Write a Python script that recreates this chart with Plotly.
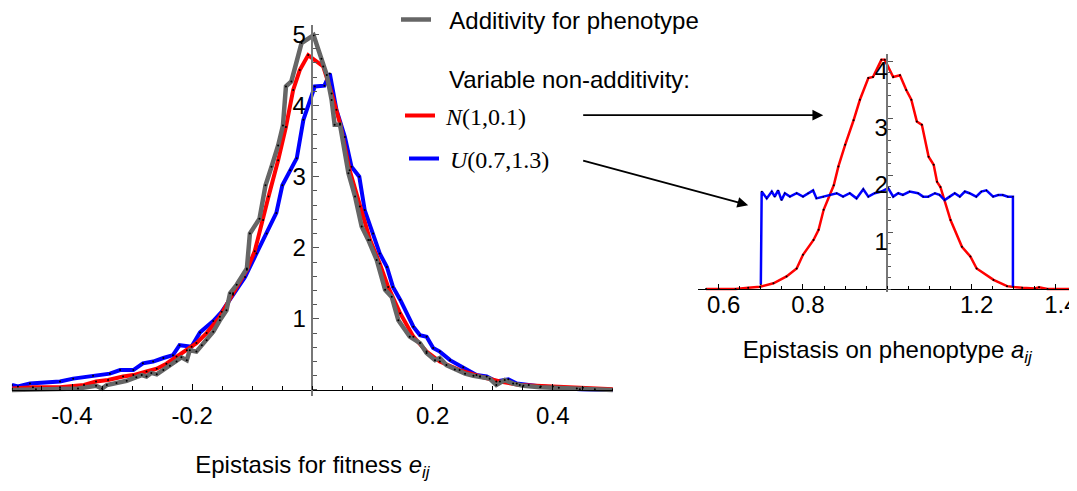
import plotly.graph_objects as go

# ---------------- Left panel: epistasis for fitness ----------------
gray_x = [-0.50, -0.46, -0.42, -0.39, -0.36, -0.35, -0.342, -0.326, -0.309, -0.293, -0.284, -0.276,
          -0.268, -0.259, -0.248, -0.237, -0.226, -0.218, -0.209, -0.204, -0.193, -0.184, -0.176,
          -0.165, -0.154, -0.143, -0.137, -0.126, -0.109, -0.104, -0.088, -0.078, -0.068, -0.057,
          -0.049, -0.044, -0.035, -0.018, 0.002, 0.015, 0.024, 0.032, 0.037, 0.046, 0.06, 0.071,
          0.082, 0.093, 0.107, 0.121, 0.132, 0.143, 0.162, 0.179, 0.19, 0.204, 0.212, 0.223, 0.237,
          0.254, 0.268, 0.279, 0.295, 0.306, 0.32, 0.334, 0.351, 0.379, 0.41, 0.44, 0.47, 0.50]
gray_y = [0.00, 0.01, 0.01, 0.02, 0.06, 0.02, 0.07, 0.10, 0.13, 0.18, 0.21, 0.19,
          0.24, 0.22, 0.28, 0.34, 0.40, 0.46, 0.42, 0.56, 0.54, 0.63, 0.70,
          0.82, 0.98, 1.12, 1.36, 1.48, 1.71, 2.20, 2.41, 2.88, 3.14, 3.44,
          3.72, 4.27, 4.34, 4.88, 4.99, 4.66, 4.43, 4.08, 3.73, 3.73, 3.05, 2.72,
          2.30, 2.11, 1.83, 1.41, 1.31, 0.98, 0.75, 0.66, 0.52, 0.42, 0.45, 0.35, 0.29,
          0.23, 0.20, 0.19, 0.16, 0.07, 0.14, 0.09, 0.06, 0.04, 0.03, 0.02, 0.01, 0.00]

red_x = [-0.50, -0.465, -0.42, -0.38, -0.36, -0.34, -0.315, -0.298, -0.276, -0.259, -0.243, -0.226,
         -0.209, -0.193, -0.176, -0.154, -0.132, -0.109, -0.096, -0.082, -0.073, -0.057, -0.044,
         -0.032, -0.021, -0.007, 0.018, 0.032, 0.046, 0.062, 0.079, 0.096, 0.112, 0.126, 0.146,
         0.168, 0.19, 0.212, 0.245, 0.279, 0.312, 0.345, 0.40, 0.45, 0.50]
red_y = [0.02, 0.04, 0.04, 0.07, 0.12, 0.14, 0.19, 0.21, 0.26, 0.30, 0.37, 0.47,
         0.56, 0.66, 0.80, 1.03, 1.36, 1.69, 1.95, 2.39, 2.72, 3.23, 3.70,
         4.22, 4.50, 4.71, 4.55, 4.17, 3.75, 3.09, 2.58, 2.11, 1.78, 1.45, 1.08,
         0.75, 0.54, 0.40, 0.28, 0.19, 0.12, 0.07, 0.05, 0.03, 0.01]

blue_x = [-0.50, -0.49, -0.47, -0.42, -0.398, -0.365, -0.337, -0.32, -0.298, -0.282, -0.265, -0.248,
          -0.232, -0.221, -0.201, -0.187, -0.165, -0.151, -0.132, -0.112, -0.093, -0.076, -0.06,
          -0.05, -0.037, -0.026, -0.015, 0.004, 0.02, 0.029, 0.04, 0.054, 0.065, 0.078, 0.087,
          0.101, 0.112, 0.124, 0.134, 0.146, 0.168, 0.179, 0.19, 0.201, 0.212, 0.229, 0.251,
          0.273, 0.29, 0.306, 0.326, 0.34, 0.36, 0.38, 0.445, 0.50]
blue_y = [0.07, 0.05, 0.09, 0.12, 0.16, 0.20, 0.23, 0.28, 0.28, 0.375, 0.40, 0.45,
          0.49, 0.63, 0.61, 0.81, 0.97, 1.10, 1.34, 1.59, 1.92, 2.20, 2.49,
          2.88, 3.09, 3.26, 3.80, 4.27, 4.28, 4.45, 3.94, 3.56, 3.14, 3.00, 2.53,
          2.20, 1.92, 1.73, 1.45, 1.27, 0.89, 0.77, 0.75, 0.59, 0.54, 0.42, 0.32,
          0.21, 0.19, 0.12, 0.15, 0.09, 0.07, 0.05, 0.01, 0.00]

left_xtick_vals = [-0.4, -0.2, 0.2, 0.4]
left_xtick_text = ["-0.4", "-0.2", "0.2", "0.4"]
left_ytick_vals = [1, 2, 3, 4, 5]

# ---------------- Right panel: epistasis on phenotype ----------------
pheno_red_x = [0.57, 0.60, 0.64, 0.67, 0.698, 0.73, 0.761, 0.785, 0.80, 0.825, 0.837, 0.849,
               0.873, 0.884, 0.90, 0.92, 0.935, 0.955, 0.966, 0.986, 0.994, 1.014, 1.03,
               1.045, 1.057, 1.07, 1.082, 1.098, 1.11, 1.118, 1.126, 1.15, 1.177, 1.197,
               1.212, 1.252, 1.284, 1.32, 1.35, 1.36, 1.38, 1.45]
pheno_red_y = [0.00, 0.00, 0.00, 0.02, 0.04, 0.10, 0.22, 0.36, 0.60, 0.86, 1.04, 1.39,
               1.82, 2.15, 2.53, 2.96, 3.32, 3.70, 3.72, 4.02, 4.02, 3.72, 3.75,
               3.49, 3.32, 2.94, 2.88, 2.32, 2.18, 1.88, 1.79, 1.21, 0.74, 0.57,
               0.36, 0.16, 0.05, 0.02, 0.01, 0.03, 0.00, 0.00]

pheno_blue_x = [0.70, 0.702, 0.714, 0.726, 0.733, 0.741, 0.749, 0.757, 0.769, 0.785, 0.80, 0.812,
                0.824, 0.832, 0.848, 0.864, 0.88, 0.895, 0.911, 0.927, 0.943, 0.955, 0.97,
                0.986, 1.002, 1.014, 1.026, 1.037, 1.053, 1.073, 1.085, 1.097, 1.113, 1.124,
                1.136, 1.148, 1.16, 1.172, 1.184, 1.195, 1.211, 1.223, 1.235, 1.251, 1.263,
                1.274, 1.286, 1.298, 1.298]
pheno_blue_y = [0.08, 1.71, 1.59, 1.71, 1.62, 1.73, 1.56, 1.68, 1.62, 1.68, 1.62, 1.68,
                1.73, 1.59, 1.62, 1.65, 1.68, 1.62, 1.68, 1.59, 1.75, 1.62, 1.68,
                1.71, 1.77, 1.62, 1.68, 1.65, 1.71, 1.68, 1.62, 1.62, 1.68, 1.65,
                1.56, 1.62, 1.68, 1.62, 1.71, 1.68, 1.62, 1.71, 1.73, 1.62, 1.65,
                1.65, 1.62, 1.62, 0.04]

right_xtick_vals = [0.6, 0.8, 1.2, 1.4]
right_xtick_text = ["0.6", "0.8", "1.2", "1.4"]
right_ytick_vals = [1, 2, 3, 4]

legend_names = ["\u00a0\u00a0Additivity for phenotype",
                "\u00a0<i>N</i>(1,0.1)",
                "\u00a0<i>U</i>(0.7,1.3)"]
group_label = "Variable non-additivity:"

# ---------------- geometry ----------------
# The page is 1077x491; the figure div sits at (8, 8) inside the page body.
PAGE_W, PAGE_H = 1077, 491
OFF = 8
W, H = PAGE_W - OFF, PAGE_H - OFF
SANS = "Liberation Sans"
SERIF = "Liberation Serif"
GRAY, RED, BLUE = "#666666", "#ff0000", "#0000ff"


def fx(p):
    """page pixel x -> paper fraction"""
    return (p - OFF) / W


def fy(p):
    """page pixel y -> paper fraction"""
    return (PAGE_H - p) / H


fig = go.Figure()

# left panel traces (blue, red, then gray on top)
fig.add_trace(go.Scatter(x=blue_x, y=blue_y, mode="lines", line=dict(color=BLUE, width=4),
                         name=legend_names[2], legend="legend3", xaxis="x", yaxis="y"))
fig.add_trace(go.Scatter(x=red_x, y=red_y, mode="lines", line=dict(color=RED, width=4),
                         name=legend_names[1], legend="legend2", xaxis="x", yaxis="y"))
fig.add_trace(go.Scatter(x=gray_x, y=gray_y, mode="lines", line=dict(color=GRAY, width=4.5),
                         name=legend_names[0], legend="legend", xaxis="x", yaxis="y"))
for xs, ys in [(blue_x, blue_y), (red_x, red_y), (gray_x, gray_y)]:
    fig.add_trace(go.Scatter(x=xs, y=ys, mode="markers", showlegend=False,
                             marker=dict(color="black", size=2), xaxis="x", yaxis="y",
                             hoverinfo="skip"))

# right panel traces
fig.add_trace(go.Scatter(x=pheno_red_x, y=pheno_red_y, mode="lines+markers",
                         line=dict(color=RED, width=2.5), marker=dict(color="black", size=2),
                         showlegend=False, xaxis="x2", yaxis="y2"))
fig.add_trace(go.Scatter(x=pheno_blue_x, y=pheno_blue_y, mode="lines+markers",
                         line=dict(color=BLUE, width=2.5), marker=dict(color="black", size=1.5),
                         showlegend=False, xaxis="x2", yaxis="y2"))

tickfont = dict(family=SANS, size=24, color="black")
titlefont = dict(family=SANS, size=24, color="black")

L_Y0, L_SC = 390.0, 71.1     # page y of y=0 and px per unit, left panel
R_Y0, R_SC = 289.0, 57.0     # same for right panel

fig.update_layout(
    width=W, height=H, margin=dict(l=0, r=0, t=0, b=0, autoexpand=False),
    paper_bgcolor="white", plot_bgcolor="white",
    xaxis=dict(domain=[fx(11.9), fx(612.9)], range=[-0.5, 0.5], anchor="free",
               position=fy(L_Y0), showline=True, linecolor="black", linewidth=1.2,
               showgrid=False, zeroline=False, tickmode="array",
               tickvals=left_xtick_vals, ticktext=left_xtick_text,
               ticks="inside", ticklen=6, tickcolor="black", tickwidth=1,
               minor=dict(dtick=0.05, tick0=0, ticks="inside", ticklen=3.5, tickcolor="black"),
               tickfont=tickfont, ticklabelstandoff=4,
               title=dict(text="Epistasis for fitness <i>e</i><sub><i>ij</i></sub>",
                          font=titlefont, standoff=28)),
    yaxis=dict(domain=[fy(L_Y0 + 0.08 * L_SC), fy(L_Y0 - 5.13 * L_SC)], range=[-0.08, 5.13],
               anchor="free", position=fx(312.4), showline=True, linecolor="#777777",
               linewidth=1.5, showgrid=False, zeroline=False, tickmode="array",
               tickvals=left_ytick_vals, ticks="inside", ticklen=6, tickcolor="#555555",
               minor=dict(dtick=0.2, tick0=0, ticks="inside", ticklen=3.5, tickcolor="#555555"),
               tickfont=tickfont, ticklabelstandoff=1),
    xaxis2=dict(domain=[fx(697.6), 1.0], range=[0.55, 1.45], anchor="free",
                position=fy(R_Y0), showline=True, linecolor="black", linewidth=1.2,
                showgrid=False, zeroline=False, tickmode="array",
                tickvals=right_xtick_vals, ticktext=right_xtick_text,
                ticks="inside", ticklen=5, tickcolor="black",
                minor=dict(dtick=0.05, tick0=0, ticks="inside", ticklen=3, tickcolor="black"),
                tickfont=tickfont, ticklabelstandoff=-6, ticklabelshift=5,
                ticklabeloverflow="allow",
                title=dict(text="Epistasis on phenoptype <i>a</i><sub><i>ij</i></sub>",
                           font=titlefont, standoff=24)),
    yaxis2=dict(domain=[fy(R_Y0 + 0.06 * R_SC), fy(R_Y0 - 4.12 * R_SC)], range=[-0.06, 4.12],
                anchor="free", position=fx(887.4), showline=True, linecolor="#777777",
                linewidth=1.5, showgrid=False, zeroline=False, tickmode="array",
                tickvals=right_ytick_vals, ticks="inside", ticklen=5, tickcolor="#555555",
                minor=dict(dtick=0.2, tick0=0, ticks="inside", ticklen=3, tickcolor="#555555"),
                tickfont=tickfont, ticklabelstandoff=-6, ticklabelshift=10),
    legend=dict(x=fx(396), y=fy(20), xanchor="left", yanchor="middle",
                font=dict(family=SANS, size=24, color="black"), bgcolor="rgba(0,0,0,0)"),
    legend2=dict(x=fx(400), y=fy(116), xanchor="left", yanchor="middle",
                 font=dict(family=SERIF, size=24, color="black"), bgcolor="rgba(0,0,0,0)"),
    legend3=dict(x=fx(404), y=fy(159), xanchor="left", yanchor="middle",
                 font=dict(family=SERIF, size=24, color="black"), bgcolor="rgba(0,0,0,0)"),
    showlegend=True,
)

# group label between the legend entries
fig.add_annotation(text=group_label, xref="paper", yref="paper", x=fx(447), y=fy(80),
                   xanchor="left", yanchor="middle", showarrow=False,
                   font=dict(family=SANS, size=24, color="black"))

# arrows from the legend entries to the right panel
for (hx, hy, tx, ty) in [(0.848, 3.05, 0.275, 3.05), (0.670, 1.47, 0.275, 2.26)]:
    fig.add_annotation(x=hx, y=hy, ax=tx, ay=ty, xref="x2", yref="y2", axref="x2", ayref="y2",
                       text="", showarrow=True, arrowhead=2, arrowsize=1.2, arrowwidth=1.8,
                       arrowcolor="black")

fig.write_html("out.html")
